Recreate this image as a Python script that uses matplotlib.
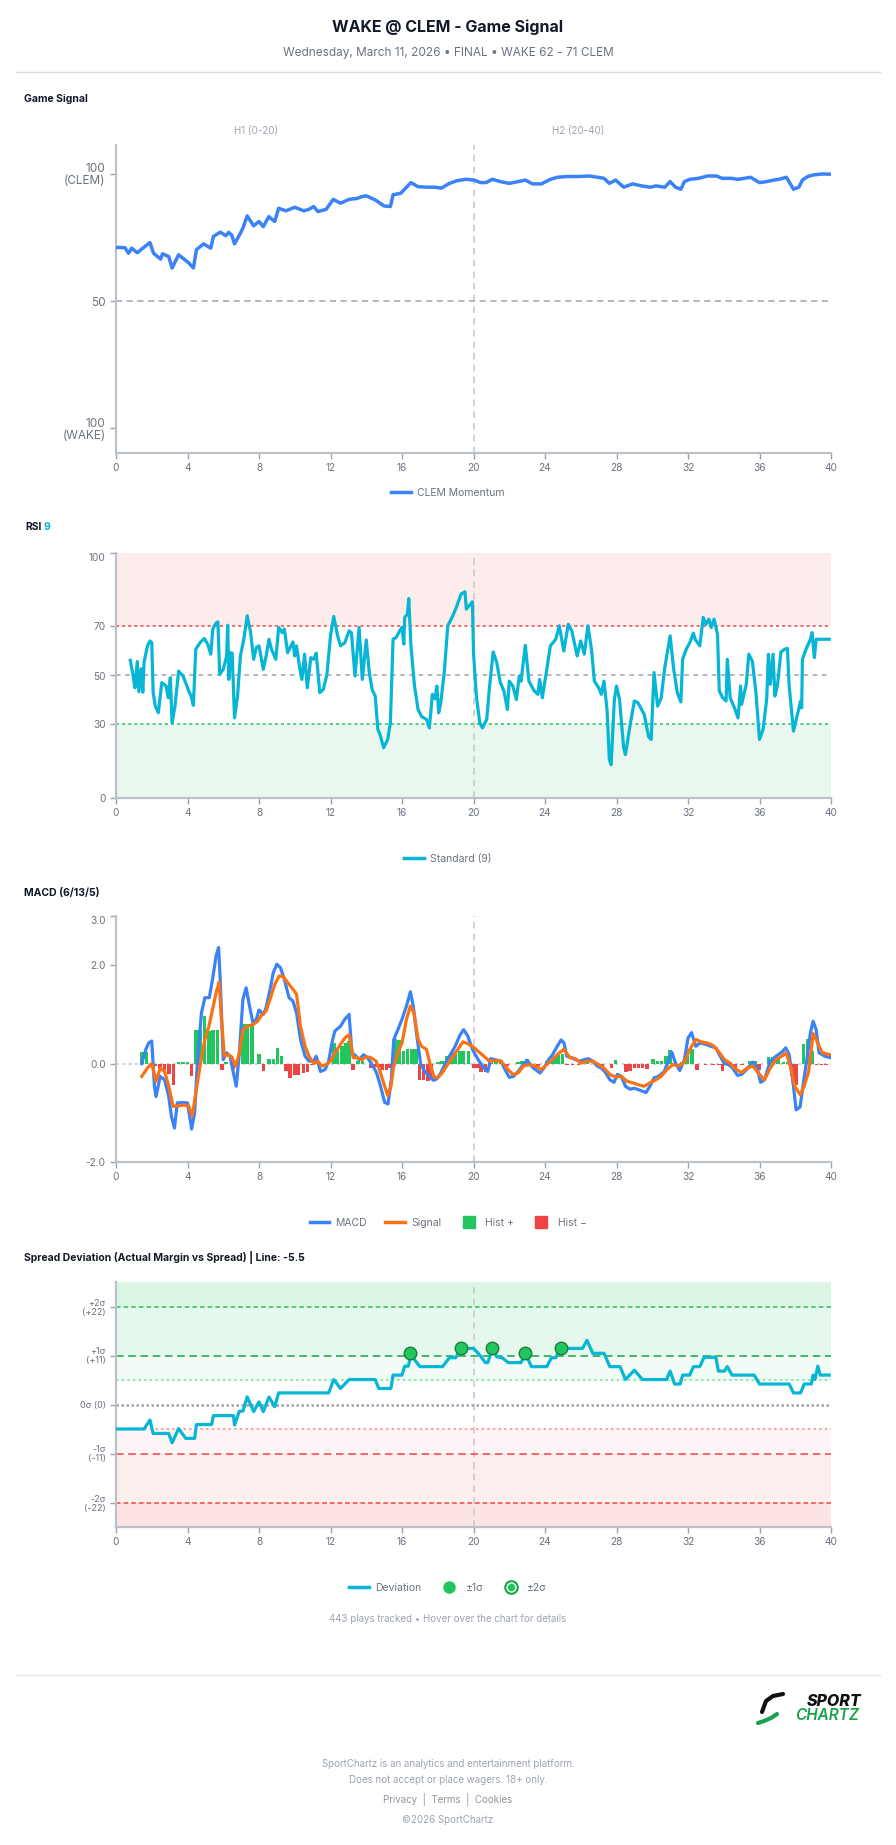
import matplotlib.pyplot as plt
import numpy as np
from matplotlib.lines import Line2D
from matplotlib.legend_handler import HandlerTuple

plt.rcParams['font.family'] = ['Inter', 'DejaVu Sans']

W, H = 896, 1845

# ---------------- data ----------------
game_t = [0, 0.5, 0.7, 0.87, 1.2, 1.44, 1.9, 2.1, 2.5, 2.6, 2.95, 3.14, 3.5, 4.07, 4.33, 4.5,
          4.9, 5.3, 5.45, 5.83, 6.15, 6.3, 6.47, 6.63, 6.96, 7.1, 7.34, 7.7, 8.0, 8.24, 8.55,
          8.88, 9.1, 9.5, 10.0, 10.5, 10.8, 11.06, 11.3, 11.76, 12.15, 12.56, 13.04, 13.5,
          13.75, 14.0, 14.5, 15.0, 15.35, 15.5, 15.93, 16.2, 16.5, 16.9, 17.4, 17.85, 18.2,
          18.65, 19.1, 19.6, 20.03, 20.4, 20.7, 21.05, 21.5, 22.0, 22.5, 22.9, 23.3, 23.8,
          24.3, 24.7, 25.2, 25.9, 26.5, 27.3, 27.6, 27.95, 28.4, 28.9, 29.4, 29.9, 30.2,
          30.7, 31.0, 31.3, 31.6, 31.8, 32.1, 32.6, 33.08, 33.6, 33.9, 34.4, 34.8, 35.5,
          36.0, 36.4, 36.8, 37.1, 37.5, 37.9, 38.2, 38.4, 38.7, 39.0, 39.5, 40.0]
game_v = [71.1, 71.0, 68.8, 70.8, 69.0, 70.5, 73.0, 68.8, 66.5, 68.6, 67.5, 63.0, 68.2, 65.0,
          63.0, 70.2, 72.5, 70.8, 75.4, 77.1, 75.7, 77.0, 76.0, 72.5, 76.7, 78.7, 83.5, 79.6,
          81.3, 79.3, 83.2, 81.3, 86.5, 85.5, 86.9, 85.5, 86.1, 87.2, 85.2, 86.1, 90.0, 88.5,
          90.0, 90.4, 91.1, 91.4, 89.8, 87.4, 87.2, 91.8, 92.4, 94.4, 96.6, 95.0, 94.8, 94.8,
          94.4, 96.3, 97.4, 97.9, 97.6, 96.6, 96.6, 97.9, 97.0, 96.3, 97.0, 97.6, 96.1, 96.1,
          97.9, 98.7, 99.0, 99.0, 99.2, 98.3, 96.3, 97.6, 94.8, 96.1, 95.3, 94.8, 95.3, 94.8,
          97.0, 94.8, 94.0, 97.0, 97.9, 98.3, 99.2, 99.2, 98.3, 98.3, 97.9, 98.7, 96.6, 97.0,
          97.6, 97.9, 98.7, 94.0, 94.8, 97.6, 99.0, 99.6, 100.0, 99.9]

rsi_t = [0.8, 0.96, 1.06, 1.19, 1.28, 1.41, 1.5, 1.57, 1.76, 1.9, 2.0, 2.08, 2.2, 2.37, 2.56,
         2.8, 2.92, 3.04, 3.14, 3.3, 3.5, 3.75, 4.07, 4.2, 4.33, 4.46, 4.7, 4.94, 5.13, 5.3,
         5.42, 5.6, 5.7, 5.8, 6.0, 6.19, 6.25, 6.31, 6.44, 6.5, 6.63, 6.8, 6.96, 7.15, 7.34,
         7.53, 7.7, 7.85, 8.0, 8.24, 8.4, 8.56, 8.7, 8.94, 9.1, 9.3, 9.42, 9.6, 9.74, 9.9,
         10.0, 10.1, 10.26, 10.4, 10.55, 10.7, 10.9, 11.06, 11.2, 11.4, 11.6, 11.8, 12.0,
         12.18, 12.4, 12.56, 12.8, 13.04, 13.17, 13.37, 13.6, 13.78, 14.0, 14.17, 14.33, 14.5,
         14.65, 14.8, 14.97, 15.2, 15.35, 15.5, 15.67, 15.87, 16.0, 16.1, 16.15, 16.3, 16.38,
         16.5, 16.7, 16.9, 17.1, 17.37, 17.53, 17.7, 17.85, 17.95, 18.05, 18.17, 18.37, 18.56,
         18.8, 19.04, 19.3, 19.52, 19.6, 19.78, 19.94, 20.0, 20.16, 20.35, 20.5, 20.74, 20.9,
         21.1, 21.3, 21.5, 21.7, 21.9, 22.0, 22.2, 22.4, 22.56, 22.66, 22.9, 23.1, 23.4, 23.6,
         23.7, 23.85, 24.1, 24.3, 24.6, 24.8, 25.05, 25.3, 25.5, 25.8, 26.0, 26.2, 26.4, 26.6,
         26.76, 27.0, 27.15, 27.3, 27.47, 27.6, 27.7, 27.88, 28.0, 28.17, 28.4, 28.5, 28.75,
         29.0, 29.2, 29.55, 29.8, 29.94, 30.1, 30.3, 30.5, 30.7, 31.0, 31.2, 31.4, 31.6, 31.7,
         31.9, 32.1, 32.3, 32.4, 32.66, 32.85, 33.0, 33.17, 33.3, 33.46, 33.65, 33.75, 33.94,
         34.13, 34.2, 34.36, 34.6, 34.8, 34.94, 35.0, 35.26, 35.4, 35.6, 35.8, 36.0, 36.2, 36.4,
         36.5, 36.6, 36.76, 36.86, 37.0, 37.2, 37.4, 37.56, 37.66, 37.9, 38.1, 38.3, 38.36,
         38.4, 38.6, 38.85, 38.94, 39.07, 39.17, 39.9]
rsi_v = [56.2, 49.8, 45.0, 55.7, 43.4, 52.8, 43.2, 55.5, 62.1, 64.1, 63.4, 43.0, 37.5, 34.8,
         47.1, 45.7, 40.9, 49.1, 30.7, 37.5, 51.8, 49.8, 43.7, 41.6, 37.8, 60.7, 63.4, 65.1,
         62.8, 58.7, 69.2, 71.4, 71.9, 50.5, 52.5, 58.0, 70.5, 48.4, 59.3, 59.1, 32.7, 41.6,
         58.0, 64.8, 74.4, 67.5, 56.6, 61.4, 62.1, 52.5, 58.0, 64.8, 60.7, 56.6, 69.6, 67.5,
         68.9, 59.3, 61.4, 63.7, 58.0, 62.1, 53.9, 48.4, 58.7, 45.0, 57.3, 56.6, 59.1, 43.0,
         44.3, 50.5, 66.2, 74.1, 66.2, 62.1, 63.4, 68.2, 67.5, 49.8, 69.6, 48.4, 64.5, 51.2,
         44.3, 41.6, 28.0, 25.2, 20.5, 23.9, 30.7, 64.8, 65.5, 68.2, 69.6, 62.8, 73.7, 75.0,
         81.4, 62.1, 45.7, 36.1, 33.2, 32.1, 28.6, 42.3, 40.5, 45.7, 34.8, 38.9, 51.8, 70.3,
         73.7, 77.8, 83.2, 84.2, 77.1, 78.7, 80.1, 59.3, 41.6, 30.7, 28.6, 32.1, 45.7, 59.6,
         55.3, 47.1, 43.7, 36.1, 47.7, 45.7, 40.2, 49.8, 47.7, 62.3, 47.7, 43.7, 42.3, 48.4,
         40.9, 52.5, 62.1, 64.8, 70.3, 60.0, 70.9, 68.2, 58.0, 64.1, 58.7, 70.3, 60.7, 47.7,
         45.0, 42.3, 47.7, 36.1, 15.7, 13.6, 40.2, 45.7, 40.2, 20.5, 17.7, 29.3, 39.6, 38.9,
         34.1, 25.0, 23.9, 51.2, 37.5, 40.9, 53.2, 66.2, 52.5, 43.0, 39.2, 56.6, 60.7, 63.4,
         67.3, 64.8, 62.1, 73.7, 70.9, 73.0, 69.6, 73.0, 66.8, 43.7, 40.9, 39.6, 56.6, 40.9,
         36.8, 32.7, 45.7, 38.2, 46.4, 58.7, 55.9, 43.0, 23.9, 28.0, 40.2, 58.7, 46.4, 58.7,
         41.6, 45.7, 59.6, 60.7, 61.1, 45.7, 27.3, 33.4, 39.6, 36.8, 56.6, 60.7, 64.8, 67.5,
         57.3, 64.8, 64.8]

macd_t = [1.44, 1.67, 1.83, 2.0, 2.15, 2.24, 2.47, 2.72, 2.95, 3.1, 3.27, 3.43, 3.75, 4.0, 4.23,
          4.4, 4.55, 4.78, 4.97, 5.22, 5.4, 5.6, 5.74, 5.83, 6.0, 6.19, 6.38, 6.57, 6.73, 6.9,
          7.1, 7.28, 7.47, 7.66, 7.85, 8.0, 8.24, 8.4, 8.62, 8.8, 9.0, 9.2, 9.42, 9.68, 9.9,
          10.1, 10.32, 10.58, 10.8, 11.06, 11.2, 11.44, 11.7, 11.9, 12.08, 12.24, 12.56, 12.8,
          13.04, 13.2, 13.4, 13.6, 13.85, 14.07, 14.33, 14.58, 14.8, 15.03, 15.22, 15.4, 15.54,
          15.77, 16.0, 16.25, 16.47, 16.63, 16.83, 17.05, 17.28, 17.53, 17.76, 17.95, 18.17,
          18.43, 18.65, 18.97, 19.23, 19.45, 19.68, 19.94, 20.26, 20.58, 20.8, 20.96, 21.2,
          21.54, 21.76, 22.0, 22.24, 22.5, 22.72, 23.0, 23.24, 23.46, 23.72, 23.94, 24.2, 24.42,
          24.68, 24.9, 25.06, 25.22, 25.48, 25.7, 25.93, 26.2, 26.44, 26.67, 26.92, 27.15, 27.4,
          27.63, 27.86, 28.05, 28.27, 28.5, 28.75, 29.0, 29.23, 29.45, 29.65, 29.87, 30.1,
          30.35, 30.67, 30.93, 31.1, 31.3, 31.54, 31.8, 32.0, 32.2, 32.44, 32.66, 33.0, 33.3,
          33.56, 33.8, 34.04, 34.27, 34.5, 34.77, 35.0, 35.3, 35.64, 35.87, 36.06, 36.28, 36.6,
          36.92, 37.24, 37.47, 37.66, 37.9, 38.05, 38.27, 38.43, 38.62, 38.85, 39.0, 39.17,
          39.33, 39.65, 39.97]
macd_v = [0.0, 0.29, 0.42, 0.46, -0.46, -0.67, -0.26, -0.33, -0.67, -1.07, -1.31, -0.8, -0.79,
          -0.8, -1.33, -1.0, 0.01, 1.03, 1.34, 1.34, 1.71, 2.19, 2.36, 1.71, 0.08, 0.22, 0.15,
          -0.19, -0.46, 0.22, 1.31, 1.54, 1.17, 0.83, 0.9, 1.09, 1.0, 1.14, 1.51, 1.85, 2.02,
          1.95, 1.71, 1.34, 1.27, 1.03, 0.49, 0.15, 0.05, 0.05, 0.15, -0.16, -0.12, 0.05, 0.42,
          0.66, 0.76, 0.9, 1.0, 0.22, 0.16, 0.08, 0.18, 0.12, -0.02, -0.19, -0.46, -0.79, -0.82,
          -0.33, 0.49, 0.69, 0.9, 1.17, 1.46, 1.17, 0.56, -0.02, -0.16, -0.26, -0.34, -0.31,
          -0.19, 0.01, 0.15, 0.35, 0.57, 0.69, 0.56, 0.29, 0.08, -0.09, -0.16, 0.1, 0.08, 0.05,
          -0.12, -0.28, -0.26, -0.16, -0.05, 0.07, -0.05, -0.12, -0.19, -0.09, 0.08, 0.18, 0.35,
          0.48, 0.42, 0.15, 0.12, 0.08, 0.05, 0.08, 0.1, 0.05, -0.05, -0.09, -0.19, -0.33, -0.38,
          -0.22, -0.26, -0.46, -0.52, -0.5, -0.53, -0.56, -0.59, -0.46, -0.29, -0.26, -0.16,
          0.08, 0.23, 0.01, -0.14, 0.08, 0.52, 0.63, 0.35, 0.42, 0.39, 0.35, 0.32, 0.15, 0.0,
          -0.02, -0.09, -0.24, -0.22, -0.11, 0.03, -0.09, -0.38, -0.33, 0.05, 0.15, 0.23, 0.32,
          0.18, -0.46, -0.94, -0.88, -0.46, 0.01, 0.63, 0.86, 0.69, 0.22, 0.15, 0.12]

signal_t = [1.44, 1.76, 2.0, 2.24, 2.47, 2.72, 2.95, 3.2, 3.5, 3.8, 4.07, 4.26, 4.46, 4.7, 4.97,
            5.2, 5.4, 5.6, 5.77, 5.9, 6.06, 6.25, 6.47, 6.7, 6.9, 7.1, 7.37, 7.7, 7.92, 8.17,
            8.4, 8.62, 8.88, 9.13, 9.36, 9.6, 9.9, 10.1, 10.32, 10.58, 10.8, 11.06, 11.3, 11.5,
            11.76, 12.0, 12.24, 12.56, 12.8, 13.04, 13.27, 13.5, 13.75, 14.0, 14.26, 14.55,
            14.74, 14.97, 15.2, 15.38, 15.54, 15.77, 16.0, 16.25, 16.47, 16.67, 16.9, 17.1,
            17.37, 17.6, 17.8, 18.0, 18.24, 18.5, 18.8, 19.13, 19.4, 19.6, 19.94, 20.26, 20.58,
            20.9, 21.2, 21.54, 21.86, 22.2, 22.5, 22.8, 23.14, 23.46, 23.8, 24.1, 24.42, 24.74,
            25.06, 25.4, 25.7, 26.0, 26.35, 26.67, 27.0, 27.3, 27.63, 27.95, 28.27, 28.6, 28.9,
            29.23, 29.55, 29.87, 30.2, 30.5, 30.83, 31.15, 31.47, 31.8, 32.1, 32.44, 32.76,
            33.08, 33.4, 33.7, 34.04, 34.36, 34.7, 35.0, 35.3, 35.64, 36.0, 36.28, 36.6, 36.92,
            37.24, 37.5, 37.72, 37.98, 38.27, 38.5, 38.75, 39.0, 39.26, 39.5, 39.97]
signal_v = [-0.26, -0.09, 0.0, -0.36, -0.09, -0.16, -0.46, -0.87, -0.86, -0.84, -0.87, -1.07,
            -0.6, -0.05, 0.49, 0.76, 1.1, 1.44, 1.66, 0.9, 0.15, 0.18, 0.14, -0.05, 0.22, 0.69,
            0.76, 0.8, 0.86, 1.0, 1.07, 1.31, 1.61, 1.78, 1.77, 1.65, 1.51, 1.41, 0.76, 0.35,
            0.15, 0.0, 0.05, -0.05, -0.02, 0.05, 0.22, 0.39, 0.52, 0.59, 0.12, 0.12, 0.08, 0.14,
            0.12, 0.05, -0.12, -0.39, -0.65, -0.46, -0.05, 0.22, 0.42, 0.9, 1.17, 1.03, 0.49,
            0.35, 0.29, -0.05, -0.27, -0.29, -0.19, -0.05, 0.12, 0.29, 0.44, 0.42, 0.35, 0.25,
            0.15, 0.05, 0.06, 0.05, -0.09, -0.22, -0.19, -0.05, -0.02, -0.05, -0.12, -0.02, 0.08,
            0.2, 0.29, 0.12, 0.1, 0.01, 0.05, 0.05, -0.02, -0.09, -0.22, -0.27, -0.26, -0.36,
            -0.39, -0.43, -0.46, -0.39, -0.33, -0.26, -0.12, -0.02, -0.05, 0.03, 0.29, 0.49,
            0.44, 0.42, 0.37, 0.25, 0.08, 0.01, -0.12, -0.18, -0.09, -0.05, -0.22, -0.33, -0.09,
            0.08, 0.15, 0.22, -0.05, -0.46, -0.63, -0.46, -0.16, 0.61, 0.42, 0.22, 0.18]

hist_t = [1.44, 1.7, 2.21, 2.47, 2.72, 2.98, 3.21, 3.49, 3.75, 4.01, 4.23, 4.49, 4.71, 4.94,
          5.19, 5.42, 5.67, 5.93, 6.15, 6.57, 7.12, 7.34, 7.6, 8.01, 8.24, 8.56, 8.81, 9.04,
          9.26, 9.52, 9.74, 10.0, 10.22, 10.48, 10.71, 10.96, 11.19, 11.44, 12.18, 12.4, 12.63,
          12.85, 13.04, 13.27, 13.53, 13.78, 14.26, 14.49, 14.71, 14.9, 15.13, 15.32, 15.61,
          15.83, 16.09, 16.31, 16.57, 16.79, 16.99, 17.21, 17.44, 17.63, 18.01, 18.24, 18.49,
          18.75, 18.97, 19.23, 19.45, 19.71, 20.0, 20.19, 20.42, 20.67, 20.99, 21.25, 21.5,
          21.86, 22.5, 22.72, 22.98, 23.62, 24.1, 24.33, 24.52, 24.74, 24.97, 25.22, 25.54,
          25.87, 26.12, 26.38, 26.89, 27.21, 27.72, 27.95, 28.53, 28.75, 29.0, 29.23, 29.46,
          29.71, 30.03, 30.29, 30.51, 30.77, 30.99, 31.63, 31.96, 32.21, 32.5, 32.98, 33.4,
          33.72, 33.94, 34.62, 35.03, 35.48, 35.74, 35.96, 36.51, 36.76, 37.02, 37.34, 37.6,
          37.82, 38.04, 38.46, 38.69, 38.94, 39.2, 39.46, 39.71]
hist_v = [0.23, 0.23, -0.05, -0.13, -0.13, -0.22, -0.43, 0.04, 0.04, 0.03, -0.26, 0.68, 0.68,
          0.97, 0.66, 0.68, 0.69, -0.12, 0.03, -0.1, 0.8, 0.8, 0.8, 0.2, -0.16, 0.1, 0.1, 0.31,
          0.15, -0.16, -0.29, -0.23, -0.23, -0.2, -0.18, -0.03, 0.02, -0.03, 0.41, 0.32, 0.35,
          0.41, 0.45, -0.12, 0.05, 0.05, -0.09, -0.06, -0.09, -0.12, -0.12, -0.09, 0.49, 0.48,
          0.25, 0.29, 0.3, 0.29, -0.33, -0.33, -0.36, -0.31, 0.03, 0.06, 0.15, 0.22, 0.23, 0.25,
          0.26, 0.26, -0.09, -0.09, -0.18, -0.18, 0.04, 0.04, 0.03, -0.04, 0.04, 0.05, 0.1,
          -0.05, 0.05, 0.08, 0.15, 0.18, 0.2, -0.03, -0.03, -0.02, 0.05, 0.05, -0.03, -0.04,
          -0.09, 0.07, -0.18, -0.16, -0.09, -0.09, -0.09, -0.11, 0.1, 0.05, 0.05, 0.16, 0.27,
          0.04, 0.27, 0.29, -0.14, -0.02, -0.02, -0.03, -0.16, -0.09, -0.02, 0.05, 0.05, -0.12,
          0.14, 0.14, 0.14, 0.04, 0.04, -0.26, -0.43, 0.39, 0.5, 0.25, -0.03, -0.03, -0.03]

dev_t = [0, 1.57, 1.9, 2.08, 2.95, 3.14, 3.5, 3.9, 4.4, 4.5, 5.35, 5.45, 6.57, 6.63, 6.9, 7.1,
         7.34, 7.7, 8.0, 8.24, 8.56, 8.88, 9.1, 11.9, 12.18, 12.56, 13.04, 14.5, 14.7, 15.38,
         15.5, 16.0, 16.15, 16.35, 16.5, 17.0, 18.27, 18.65, 19.0, 19.3, 19.6, 20.0, 20.26,
         20.67, 20.8, 21.06, 21.3, 21.6, 21.95, 22.66, 22.9, 23.24, 24.1, 24.36, 24.6, 24.84,
         25.2, 26.1, 26.35, 26.67, 27.3, 27.63, 28.2, 28.5, 29.0, 29.45, 30.8, 31.0, 31.25,
         31.57, 31.7, 32.1, 32.3, 32.66, 32.9, 33.56, 33.7, 34.04, 34.2, 34.46, 35.7, 36.0,
         37.66, 37.9, 38.3, 38.5, 38.9, 39.0, 39.1, 39.26, 39.4, 39.9]
dev_v = [-5.5, -5.5, -3.5, -6.5, -6.5, -8.6, -5.4, -7.6, -7.6, -4.5, -4.5, -2.5, -2.5, -4.6,
         -1.5, -1.5, 1.7, -1.6, 0.6, -1.6, 1.7, -0.5, 2.6, 2.6, 5.6, 3.6, 5.6, 5.6, 3.6, 3.6,
         6.6, 6.6, 8.6, 8.6, 11.1, 8.5, 8.5, 10.5, 10.5, 12.6, 12.6, 12.6, 11.5, 9.4, 9.4,
         12.6, 10.7, 10.5, 9.4, 9.4, 11.5, 8.5, 8.5, 10.5, 10.5, 12.6, 12.6, 12.6, 14.4, 11.5,
         11.5, 8.5, 8.5, 5.6, 7.7, 5.6, 5.6, 7.5, 4.6, 4.6, 6.6, 6.6, 8.5, 8.5, 10.6, 10.6,
         7.5, 7.5, 8.5, 6.6, 6.6, 4.6, 4.6, 2.6, 2.6, 4.6, 4.6, 6.6, 5.6, 8.6, 6.6, 6.6]

sig1_t = [16.44, 19.3, 21.06, 22.9, 24.9]
sig1_v = [11.5, 12.6, 12.6, 11.5, 12.6]

x_ticks = list(range(0, 41, 4))

BLUE = '#3b82f6'
CYAN = '#06b6d4'
ORANGE = '#f97316'
GREEN = '#22c55e'
RED = '#ef4444'
TICK = '#6b7280'
SPINE = '#bcc0c7'
VLINE = '#c6cad0'

fig = plt.figure(figsize=(W / 100, H / 100), dpi=100)
fig.patch.set_facecolor('white')


def fx(x):
    return x / W


def fy(y):
    return 1 - y / H


def add_ax(top, bottom, left=116, right=831):
    ax = fig.add_axes([fx(left), fy(bottom), (right - left) / W, (bottom - top) / H])
    for s in ['top', 'right']:
        ax.spines[s].set_visible(False)
    for s in ['left', 'bottom']:
        ax.spines[s].set_color(SPINE)
        ax.spines[s].set_linewidth(1.6)
    ax.tick_params(colors='#9ca3af', labelcolor=TICK, labelsize=7.3, length=4, width=1)
    ax.set_xlim(0, 40)
    ax.set_xticks(x_ticks)
    ax.axvline(20, color=VLINE, lw=1.2, ls=(0, (4, 3)), zorder=1)
    return ax


def legend_at(y, handles, labels, **kw):
    fig.legend(handles, labels, loc='center', bbox_to_anchor=(0.5, fy(y)), ncol=len(handles),
               frameon=False, fontsize=7.5, labelcolor=TICK, handlelength=1.9,
               handletextpad=0.6, columnspacing=1.7, **kw)


# ---------------- header ----------------
fig.text(0.5, fy(27), 'WAKE @ CLEM - Game Signal', ha='center', va='center',
         fontsize=11.5, fontweight='bold', color='#111827')
fig.text(0.5, fy(53), 'Wednesday, March 11, 2026 • FINAL • WAKE 62 - 71 CLEM', ha='center',
         va='center', fontsize=8.5, color='#6b7280')
fig.add_artist(Line2D([fx(16), fx(880)], [fy(72), fy(72)], color='#d9dce1', lw=1))

# ---------------- game signal ----------------
fig.text(fx(24), fy(99), 'Game Signal', ha='left', va='center', fontsize=7.5,
         fontweight='bold', color='#111827')
ax1 = add_ax(145, 453)
ax1.set_ylim(-9.8, 111.4)
ax1.axhline(50, color='#9ca3af', lw=1.1, ls=(0, (4, 3)), zorder=1)
ax1.plot(game_t, game_v, color=BLUE, lw=2.5, zorder=3)
ax1.set_yticks([0, 50, 100], ['100\n(WAKE)', '50', '100\n(CLEM)'])
for lbl in ax1.get_yticklabels():
    lbl.set_fontsize(8.5)
    lbl.set_linespacing(1.0)
fig.text(fx(256), fy(131), 'H1 (0-20)', ha='center', va='center', fontsize=7, color='#9ca3af')
fig.text(fx(578), fy(131), 'H2 (20-40)', ha='center', va='center', fontsize=7, color='#9ca3af')
legend_at(493, [Line2D([], [], color=BLUE, lw=2.5)], ['CLEM Momentum'])

# ---------------- RSI ----------------
fig.text(fx(25), fy(527), 'RSI', ha='left', va='center', fontsize=7.5, fontweight='bold',
         color='#111827')
fig.text(fx(43), fy(527), '9', ha='left', va='center', fontsize=7.5, fontweight='bold',
         color=CYAN)
ax2 = add_ax(553, 798)
ax2.set_ylim(0, 100)
ax2.axhspan(70, 100, color='#fdecec', zorder=0, lw=0)
ax2.axhspan(0, 30, color='#eaf7ee', zorder=0, lw=0)
ax2.axhline(70, color=RED, lw=1.1, ls=(0, (2, 2)), zorder=1)
ax2.axhline(30, color=GREEN, lw=1.1, ls=(0, (2, 2)), zorder=1)
ax2.axhline(50, color='#9ca3af', lw=1.1, ls=(0, (3, 3)), zorder=1)
ax2.plot(rsi_t, rsi_v, color=CYAN, lw=2.3, zorder=3)
ax2.set_yticks([0, 30, 50, 70, 100], ['0', '30', '50', '70', '100'])
ax2.get_yticklabels()[-1].set_verticalalignment('top')
legend_at(859, [Line2D([], [], color=CYAN, lw=2.5)], ['Standard (9)'])

# ---------------- MACD ----------------
fig.text(fx(24), fy(893), 'MACD (6/13/5)', ha='left', va='center', fontsize=7.5,
         fontweight='bold', color='#111827')
ax3 = add_ax(916, 1162)
ax3.set_ylim(-2, 3)
ax3.axhline(0, color='#c8ccd2', lw=1.3, ls=(0, (1.5, 2)), zorder=1)
hist_colors = [GREEN if v >= 0 else RED for v in hist_v]
ax3.bar(hist_t, hist_v, width=0.2, color=hist_colors, zorder=2, lw=0)
ax3.plot(macd_t, macd_v, color=BLUE, lw=2.3, zorder=3)
ax3.plot(signal_t, signal_v, color=ORANGE, lw=2.3, zorder=4)
ax3.set_yticks([-2, 0, 2, 3], ['-2.0', '0.0', '2.0', '3.0'])
ax3.get_yticklabels()[-1].set_verticalalignment('top')
legend_at(1223, [Line2D([], [], color=BLUE, lw=2.5), Line2D([], [], color=ORANGE, lw=2.5),
                 Line2D([], [], ls='none', marker='s', markersize=8, color=GREEN),
                 Line2D([], [], ls='none', marker='s', markersize=8, color=RED)],
          ['MACD', 'Signal', 'Hist +', 'Hist −'])

# ---------------- spread deviation ----------------
fig.text(fx(24), fy(1257), 'Spread Deviation (Actual Margin vs Spread) | Line: -5.5',
         ha='left', va='center', fontsize=7.5, fontweight='bold', color='#111827')
ax4 = add_ax(1282, 1527)
ax4.set_ylim(-27.5, 27.5)
ax4.axhspan(22, 27.5, color='#dcf5e4', zorder=0, lw=0)
ax4.axhspan(11, 22, color='#e6f8ed', zorder=0, lw=0)
ax4.axhspan(5.5, 11, color='#f2fbf6', zorder=0, lw=0)
ax4.axhspan(-11, -5.5, color='#fef6f6', zorder=0, lw=0)
ax4.axhspan(-22, -11, color='#fdeeee', zorder=0, lw=0)
ax4.axhspan(-27.5, -22, color='#fde3e4', zorder=0, lw=0)
ax4.axhline(22, color=GREEN, lw=1.1, ls=(0, (3, 2)), zorder=1)
ax4.axhline(11, color='#16a34a', lw=1.1, ls=(0, (5, 3)), zorder=1)
ax4.axhline(5.5, color='#86efac', lw=1.5, ls=(0, (1.2, 1.5)), zorder=1)
ax4.axhline(0, color='#9ca3af', lw=1.8, ls=(0, (1, 1)), zorder=1)
ax4.axhline(-5.5, color='#fca5a5', lw=1.5, ls=(0, (1.2, 1.5)), zorder=1)
ax4.axhline(-11, color=RED, lw=1.1, ls=(0, (5, 3)), zorder=1)
ax4.axhline(-22, color=RED, lw=1.1, ls=(0, (3, 2)), zorder=1)
ax4.plot(dev_t, dev_v, color=CYAN, lw=2.3, zorder=3)
ax4.plot(sig1_t, sig1_v, ls='none', marker='o', markersize=9, markerfacecolor=GREEN,
         markeredgecolor='#15803d', markeredgewidth=1, zorder=4)
ax4.set_yticks([-22, -11, 0, 11, 22],
               ['-2σ\n(-22)', '-1σ\n(-11)', '0σ (0)', '+1σ\n(+11)', '+2σ\n(+22)'])
for lbl in ax4.get_yticklabels():
    lbl.set_fontsize(6.5)
    lbl.set_linespacing(1.0)
ring = (Line2D([], [], ls='none', marker='o', markersize=9, markerfacecolor='white',
               markeredgecolor='#16a34a', markeredgewidth=1.5),
        Line2D([], [], ls='none', marker='o', markersize=4.5, color=GREEN))
legend_at(1588, [Line2D([], [], color=CYAN, lw=2.5),
                 Line2D([], [], ls='none', marker='o', markersize=8, color=GREEN), ring],
          ['Deviation', '±1σ', '±2σ'], handler_map={tuple: HandlerTuple(ndivide=1)})

fig.text(0.5, fy(1619), '443 plays tracked • Hover over the chart for details', ha='center',
         va='center', fontsize=7, color='#9ca3af')

# ---------------- footer ----------------
fig.add_artist(Line2D([fx(16), fx(880)], [fy(1675), fy(1675)], color='#e5e7eb', lw=1))
fig.text(fx(862), fy(1701), 'SPORT', ha='right', va='center', fontsize=11.5,
         fontweight='heavy', style='italic', color='#111111')
fig.text(fx(859), fy(1716), 'CHARTZ', ha='right', va='center', fontsize=11,
         fontweight='semibold', style='italic', color='#16a34a')
fig.add_artist(Line2D([fx(762), fx(766), fx(773), fx(783)], [fy(1712), fy(1701), fy(1696), fy(1694)],
                      color='#111111', lw=3, solid_capstyle='round'))
fig.add_artist(Line2D([fx(758), fx(764), fx(771), fx(777)], [fy(1723), fy(1721), fy(1718), fy(1714)],
                      color='#16a34a', lw=3, solid_capstyle='round'))

fig.text(0.5, fy(1764), 'SportChartz is an analytics and entertainment platform.', ha='center',
         va='center', fontsize=7, color='#9ca3af')
fig.text(0.5, fy(1780), 'Does not accept or place wagers. 18+ only.', ha='center',
         va='center', fontsize=7, color='#9ca3af')
fig.text(0.5, fy(1800), 'Privacy  |  Terms  |  Cookies', ha='center', va='center', fontsize=7,
         color='#8f959e')
fig.text(0.5, fy(1820), '©2026 SportChartz', ha='center', va='center', fontsize=7,
         color='#9ca3af')

fig.savefig('out.png', dpi=100, facecolor='white')
